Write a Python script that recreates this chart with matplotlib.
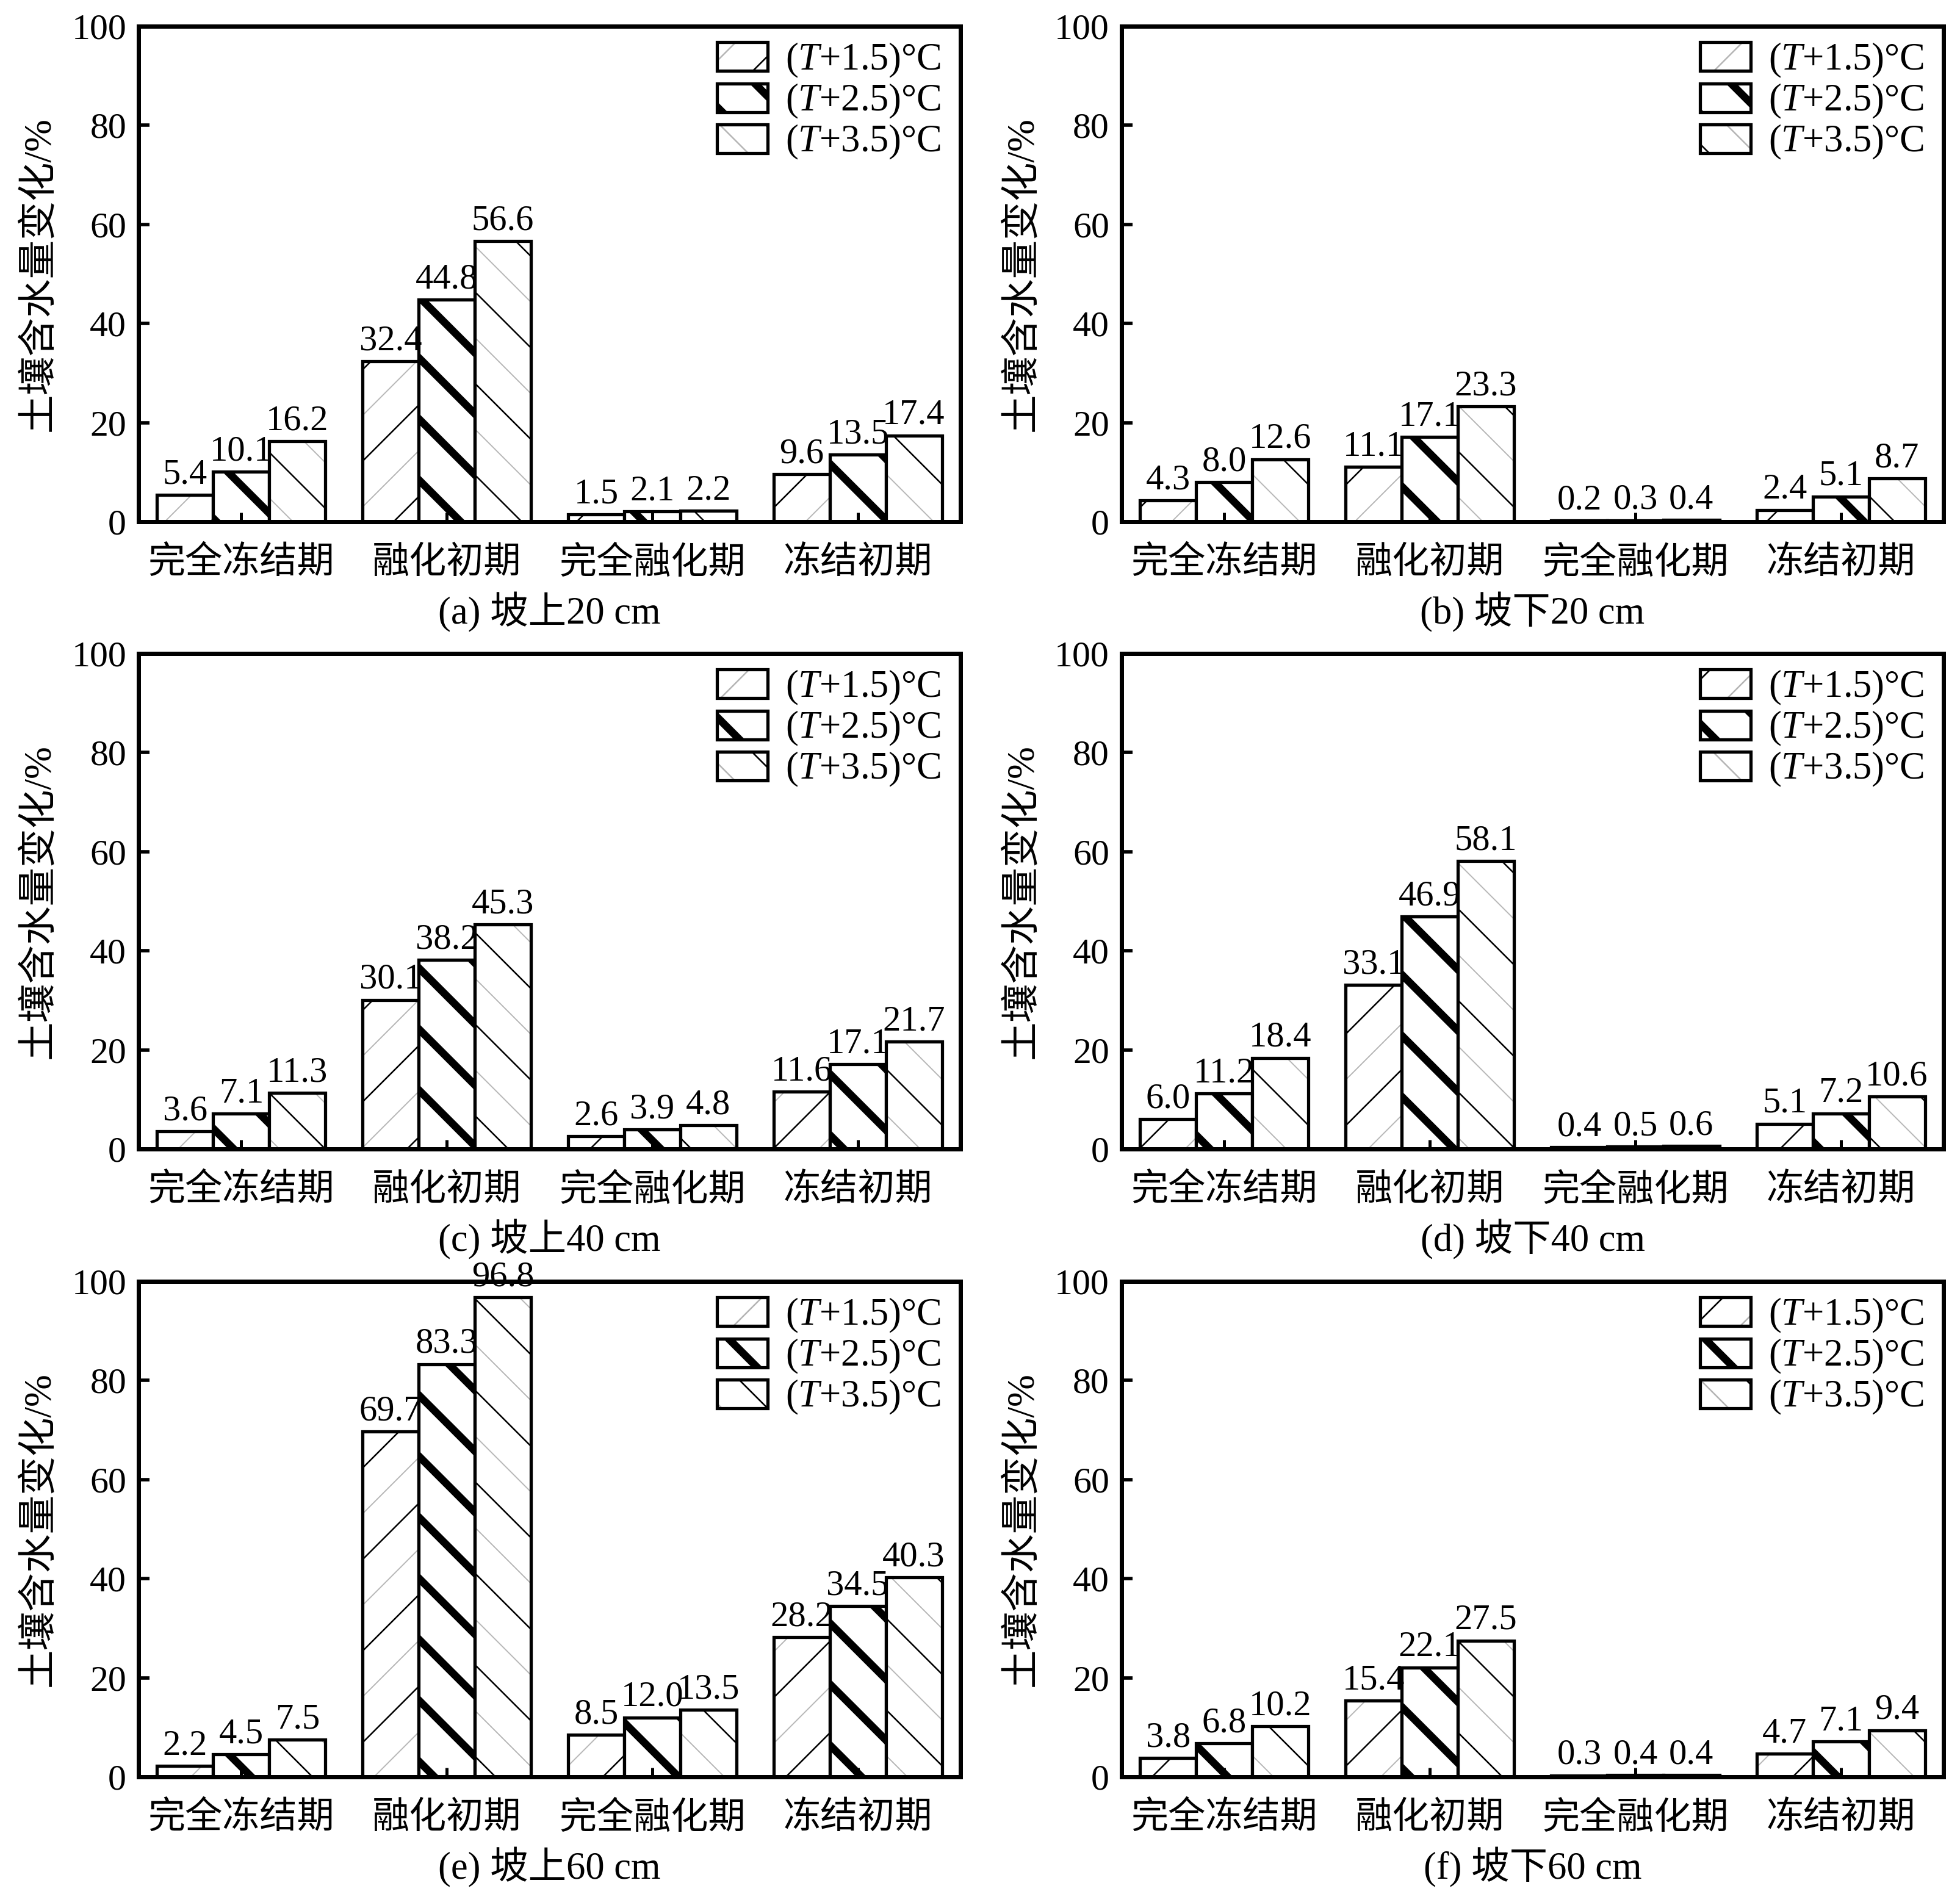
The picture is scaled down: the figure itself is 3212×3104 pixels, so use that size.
import numpy as np
import matplotlib
import matplotlib.pyplot as plt

plt.rcParams['font.family'] = ['Liberation Serif', 'Noto Sans CJK SC', 'DejaVu Sans']
plt.rcParams['mathtext.fontset'] = 'custom'
plt.rcParams['mathtext.rm'] = 'Liberation Serif'
plt.rcParams['mathtext.it'] = 'Liberation Serif:italic'

# 数据
stages = ['完全冻结期', '融化初期', '完全融化期', '冻结初期']
series = ['($\\mathit{T}$+1.5)°C', '($\\mathit{T}$+2.5)°C', '($\\mathit{T}$+3.5)°C']
titles = ['(a) 坡上20 cm', '(b) 坡下20 cm', '(c) 坡上40 cm',
          '(d) 坡下40 cm', '(e) 坡上60 cm', '(f) 坡下60 cm']

a_vals = [[5.4, 32.4, 1.5, 9.6], [10.1, 44.8, 2.1, 13.5], [16.2, 56.6, 2.2, 17.4]]
b_vals = [[4.3, 11.1, 0.2, 2.4], [8.0, 17.1, 0.3, 5.1], [12.6, 23.3, 0.4, 8.7]]
c_vals = [[3.6, 30.1, 2.6, 11.6], [7.1, 38.2, 3.9, 17.1], [11.3, 45.3, 4.8, 21.7]]
d_vals = [[6.0, 33.1, 0.4, 5.1], [11.2, 46.9, 0.5, 7.2], [18.4, 58.1, 0.6, 10.6]]
e_vals = [[2.2, 69.7, 8.5, 28.2], [4.5, 83.3, 12.0, 34.5], [7.5, 96.8, 13.5, 40.3]]
f_vals = [[3.8, 15.4, 0.3, 4.7], [6.8, 22.1, 0.4, 7.1], [10.2, 27.5, 0.4, 9.4]]
all_vals = [a_vals, b_vals, c_vals, d_vals, e_vals, f_vals]

yticks = [0, 20, 40, 60, 80, 100]

# 样式
W, H, DPI = 3212, 3104, 900
hatches = ['//', '\\\\\\', '\\\\']
gray_hatch = ['////', None, '\\\\\\\\']
hatch_lw = [0.2, 1.0, 0.2]
gray_lw = 0.15
bw = 0.273
edge_lw = 0.42


def hlw(p, lw):
    # grosor de la trama por barra (matplotlib >= 3.10)
    if hasattr(p, 'set_hatch_linewidth'):
        p.set_hatch_linewidth(lw)


fig = plt.figure(figsize=(W / DPI, H / DPI), dpi=DPI)

col_left = [227, 1838]
row_bottom = [855, 1883, 2912]
ax_w, ax_h = 1347, 812

x = np.arange(len(stages))
for k, vals in enumerate(all_vals):
    r, c = k // 2, k % 2
    ax = fig.add_axes([col_left[c] / W, 1 - row_bottom[r] / H, ax_w / W, ax_h / H])
    handles = []
    for j in range(3):
        xs = x + (j - 1) * bw
        gb = None
        if gray_hatch[j]:
            with plt.rc_context({'hatch.linewidth': gray_lw}):
                gb = ax.bar(xs, vals[j], bw, color='white', edgecolor='#b5b5b5',
                            linewidth=0, hatch=gray_hatch[j])
            for p in gb:
                hlw(p, gray_lw)
            fc = 'none'
        else:
            fc = 'white'
        with plt.rc_context({'hatch.linewidth': hatch_lw[j]}):
            b = ax.bar(xs, vals[j], bw, facecolor=fc, edgecolor='black',
                       linewidth=edge_lw, hatch=hatches[j], label=series[j])
        for p in b:
            hlw(p, hatch_lw[j])
        handles.append((gb, b) if gb is not None else b)
        for xi, v in zip(xs, vals[j]):
            ax.annotate(f'{v:.1f}', (xi, v), xytext=(0, 1.5), textcoords='offset points',
                        ha='center', va='baseline', fontsize=4.7)

    ax.set_xlim(-0.5, 3.5)
    ax.set_ylim(0, 100)
    ax.set_yticks(yticks)
    ax.set_xticks(x)
    ax.set_xticklabels(stages, fontsize=4.9)
    ax.tick_params(axis='y', direction='in', length=1.4, width=0.45, labelsize=4.8, pad=1.6)
    ax.tick_params(axis='x', direction='in', length=1.2, width=0.4, pad=3.2)
    for s in ax.spines.values():
        s.set_linewidth(0.56)

    ax.text(-0.121, 0.5, '土壤含水量变化/%', transform=ax.transAxes, rotation=90,
            ha='center', va='center', fontsize=5.1)
    ax.text(0.5, -0.183, titles[k], transform=ax.transAxes, ha='center', va='center',
            fontsize=5.0)

    with plt.rc_context({'hatch.linewidth': 0.2}):
        leg = ax.legend(handles=handles, labels=series, loc='upper left',
                        bbox_to_anchor=(0.704, 0.969),
                        frameon=False, fontsize=5.0, borderpad=0, borderaxespad=0,
                        handlelength=1.33, handleheight=0.78, handletextpad=0.46,
                        labelspacing=0.08)
    for h in leg.legend_handles:
        hlw(h, 0.2)
    hlw(leg.legend_handles[1], hatch_lw[1])

fig.savefig('out.png', dpi=DPI)
